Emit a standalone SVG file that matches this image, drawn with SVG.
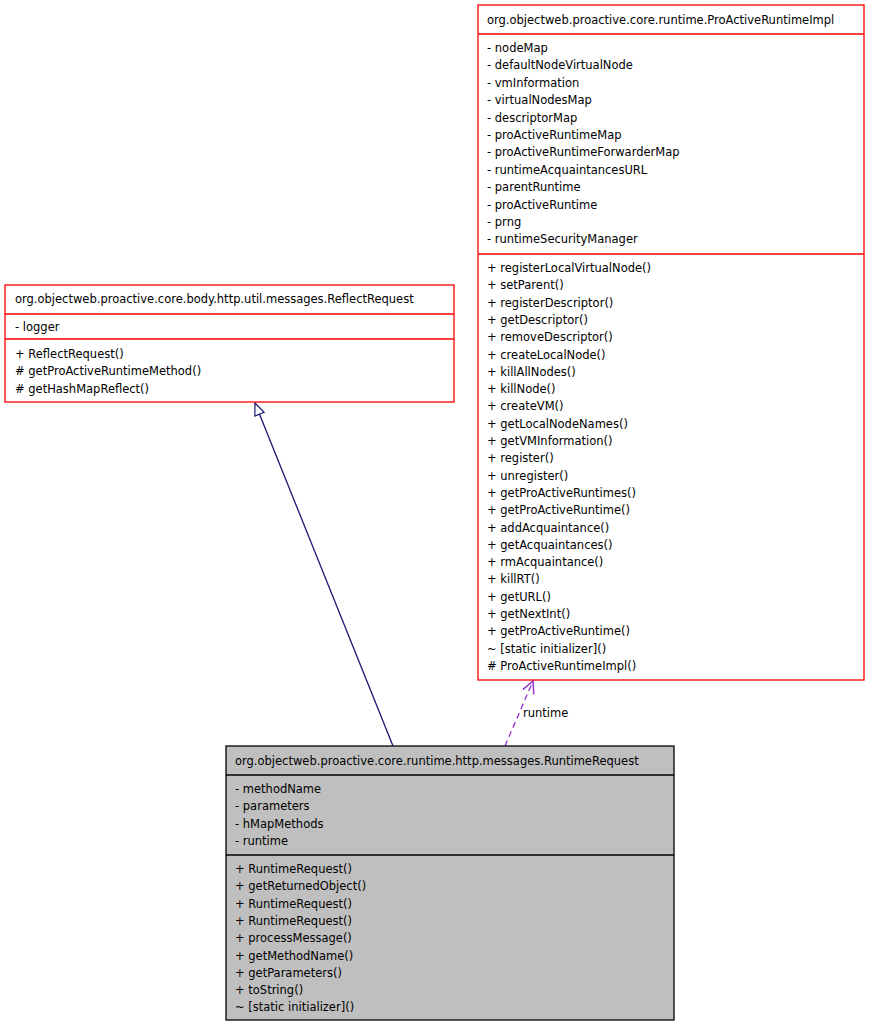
<svg xmlns="http://www.w3.org/2000/svg" width="869" height="1026" viewBox="0 0 869 1026">
<style>
text{font-family:"DejaVu Sans","Liberation Sans",sans-serif;font-size:11.5px;fill:#000}
.b{fill:#fff;stroke:#ff0000;stroke-width:1.3}
.g{fill:#bfbfbf;stroke:#000;stroke-width:1.3}
.l{stroke:#ff0000;stroke-width:1.3}
.k{stroke:#000;stroke-width:1.3}
</style>
<defs>
<marker id="tri" markerWidth="14" markerHeight="14" refX="13" refY="7" orient="auto" markerUnits="userSpaceOnUse"><path d="M1,2 L13,7 L1,12 Z" fill="#fff" stroke="#191970" stroke-width="1.2"/></marker>
<marker id="open" markerWidth="14" markerHeight="14" refX="13" refY="7" orient="auto" markerUnits="userSpaceOnUse"><path d="M1,1 L13,7 L1,13" fill="none" stroke="#9a32cd" stroke-width="1.5"/></marker>
</defs>
<g id="connectors">
<line x1="393" y1="746" x2="255" y2="403" stroke="#191970" stroke-width="1.3" marker-end="url(#tri)"/>
<line x1="505" y1="746" x2="533" y2="681" stroke="#9a32cd" stroke-width="1.3" stroke-dasharray="6,4" marker-end="url(#open)"/>
<text x="523" y="717">runtime</text>
</g>
<g id="ProActiveRuntimeImpl">
<rect class="b" x="478" y="5" width="386" height="675"/>
<line class="l" x1="478" y1="34" x2="864" y2="34"/>
<line class="l" x1="478" y1="254" x2="864" y2="254"/>
<text x="487" y="24">org.objectweb.proactive.core.runtime.ProActiveRuntimeImpl</text>
<text x="487" y="52">- nodeMap</text><text x="487" y="69.4">- defaultNodeVirtualNode</text><text x="487" y="86.8">- vmInformation</text><text x="487" y="104.2">- virtualNodesMap</text><text x="487" y="121.6">- descriptorMap</text><text x="487" y="139">- proActiveRuntimeMap</text><text x="487" y="156.4">- proActiveRuntimeForwarderMap</text><text x="487" y="173.8">- runtimeAcquaintancesURL</text><text x="487" y="191.2">- parentRuntime</text><text x="487" y="208.6">- proActiveRuntime</text><text x="487" y="226">- prng</text><text x="487" y="243.4">- runtimeSecurityManager</text>
<text x="487" y="272">+ registerLocalVirtualNode()</text><text x="487" y="289.3">+ setParent()</text><text x="487" y="306.6">+ registerDescriptor()</text><text x="487" y="323.9">+ getDescriptor()</text><text x="487" y="341.2">+ removeDescriptor()</text><text x="487" y="358.5">+ createLocalNode()</text><text x="487" y="375.8">+ killAllNodes()</text><text x="487" y="393.1">+ killNode()</text><text x="487" y="410.4">+ createVM()</text><text x="487" y="427.7">+ getLocalNodeNames()</text><text x="487" y="445">+ getVMInformation()</text><text x="487" y="462.3">+ register()</text><text x="487" y="479.6">+ unregister()</text><text x="487" y="496.9">+ getProActiveRuntimes()</text><text x="487" y="514.2">+ getProActiveRuntime()</text><text x="487" y="531.5">+ addAcquaintance()</text><text x="487" y="548.8">+ getAcquaintances()</text><text x="487" y="566.1">+ rmAcquaintance()</text><text x="487" y="583.4">+ killRT()</text><text x="487" y="600.7">+ getURL()</text><text x="487" y="618">+ getNextInt()</text><text x="487" y="635.3">+ getProActiveRuntime()</text><text x="487" y="652.6">~ [static initializer]()</text><text x="487" y="669.9"># ProActiveRuntimeImpl()</text>
</g>
<g id="ReflectRequest">
<rect class="b" x="5" y="285" width="449" height="117"/>
<line class="l" x1="5" y1="314" x2="454" y2="314"/>
<line class="l" x1="5" y1="339" x2="454" y2="339"/>
<text x="15" y="303">org.objectweb.proactive.core.body.http.util.messages.ReflectRequest</text>
<text x="15" y="331">- logger</text>
<text x="15" y="358">+ ReflectRequest()</text><text x="15" y="375.3"># getProActiveRuntimeMethod()</text><text x="15" y="392.6"># getHashMapReflect()</text>
</g>
<g id="RuntimeRequest">
<rect class="g" x="226" y="746" width="448" height="274"/>
<line class="k" x1="226" y1="775" x2="674" y2="775"/>
<line class="k" x1="226" y1="855" x2="674" y2="855"/>
<text x="235" y="765">org.objectweb.proactive.core.runtime.http.messages.RuntimeRequest</text>
<text x="235" y="793">- methodName</text><text x="235" y="810.3">- parameters</text><text x="235" y="827.6">- hMapMethods</text><text x="235" y="844.9">- runtime</text>
<text x="235" y="873">+ RuntimeRequest()</text><text x="235" y="890.3">+ getReturnedObject()</text><text x="235" y="907.6">+ RuntimeRequest()</text><text x="235" y="924.9">+ RuntimeRequest()</text><text x="235" y="942.2">+ processMessage()</text><text x="235" y="959.5">+ getMethodName()</text><text x="235" y="976.8">+ getParameters()</text><text x="235" y="994.1">+ toString()</text><text x="235" y="1011.4">~ [static initializer]()</text>
</g>
</svg>
